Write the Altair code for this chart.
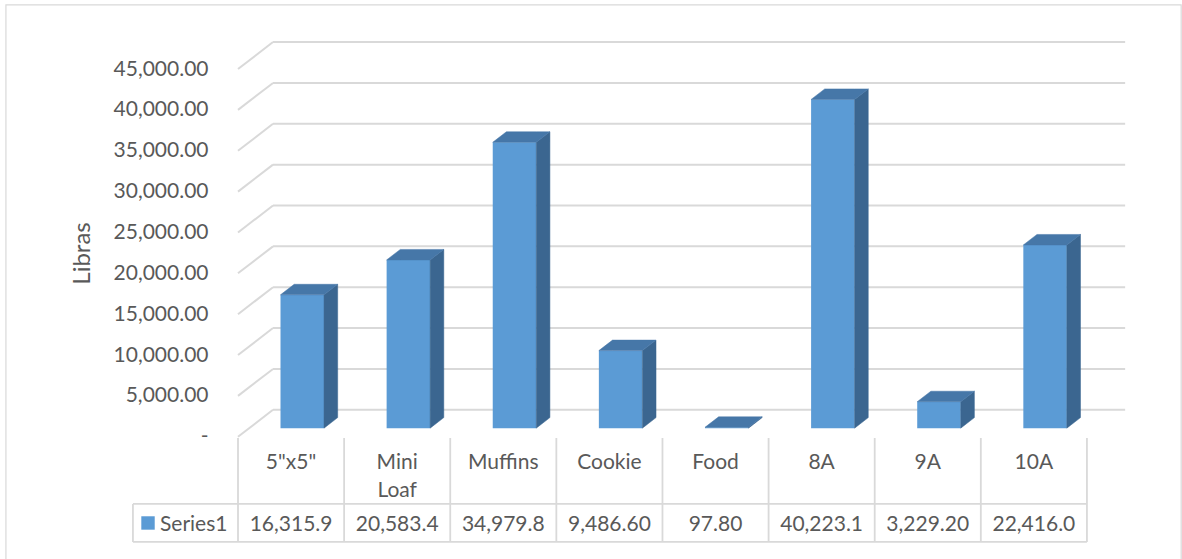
import altair as alt
import pandas as pd

# ---- data -------------------------------------------------------------
categories = ['5"x5"', "Mini Loaf", "Muffins", "Cookie", "Food", "8A", "9A", "10A"]
libras = [16315.9, 20583.4, 34979.8, 9486.6, 97.8, 40223.1, 3229.2, 22416.0]
y_ticks = [0, 5000, 10000, 15000, 20000, 25000, 30000, 35000, 40000, 45000]
series_name = "Series1"

# ---- style / projection ------------------------------------------------
FRONT, SIDE, TOP = "#5B9BD5", "#3B6690", "#4677A8"
GRID, TEXT = "#D9D9D9", "#595959"
FONT, FS = "Lato", 21

DX, DY = 0.33, 3300          # oblique shift at full depth (category units, libras)
BAR_W = 0.41                 # column width in category units
D0, D1 = 0.32, 0.71          # front / back depth of the columns
WALL_END = 8.36              # right end of the back wall

# table rows, expressed on the value scale (below the floor)
ROW_TOP, ROW_MID, ROW_BOT = -150, -8220, -12870
HEAD_BASE, VAL_BASE, KEY_MID = -4000, -11530, -10550
KEY_X, KEY_TXT_X, TABLE_LEFT = -0.848, -0.735, -0.99

xs = alt.Scale(domain=[0, 8.5], nice=False, zero=False)
ys = alt.Scale(domain=[-13000, 51000], nice=False, zero=False)
yaxis = alt.Axis(
    values=y_ticks,
    labelExpr="datum.value == 0 ? '-\u00a0\u00a0\u00a0' : format(datum.value, ',.2f')",
    grid=False, domain=False, ticks=False, labelPadding=30,
    labelFont=FONT, labelFontSize=FS, labelColor=TEXT,
    title="Libras", titleFont=FONT, titleFontSize=24, titleColor=TEXT,
    titleFontWeight="normal", titleX=-156, titleY=233, titleAngle=270,
    titleAlign="center", titleBaseline="middle",
)


def X(f):
    return alt.X(f, type="quantitative", scale=xs, axis=None)


def Y(f):
    return alt.Y(f, type="quantitative", scale=ys, axis=yaxis)


# ---- walls ----------------------------------------------------------------
grid_df = pd.DataFrame({"v": y_ticks})
grid_df["vb"] = grid_df["v"] + DY
grid_df["x0"], grid_df["xb"], grid_df["xe"] = 0.0, DX, WALL_END

back_wall = alt.Chart(grid_df).mark_rule(color=GRID, strokeWidth=2).encode(
    x=X("xb"), x2="xe", y=Y("vb"))
side_wall = alt.Chart(grid_df).mark_rule(color=GRID, strokeWidth=2).encode(
    x=X("x0"), x2="xb", y=Y("v"), y2="vb")

# ---- 3-D columns -----------------------------------------------------------
front_rows, side_rows, top_rows = [], [], []
dxb, dyb = (D1 - D0) * DX, (D1 - D0) * DY
base = D0 * DY
for i, (c, v) in enumerate(zip(categories, libras)):
    x1 = i + 0.5 - BAR_W / 2 + D0 * DX
    x2 = x1 + BAR_W
    yt = v + base
    front_rows.append({"cat": c, "x1": x1, "x2": x2, "y1": base, "y2": yt})
    side_rows += [
        {"cat": c, "x": x2, "y": yt, "y2": base},
        {"cat": c, "x": x2 + dxb, "y": yt + dyb, "y2": base + dyb},
    ]
    top_rows += [
        {"cat": c, "x": x1, "y": yt, "y2": yt},
        {"cat": c, "x": x1 + dxb, "y": yt + dyb, "y2": yt},
        {"cat": c, "x": x2, "y": yt + dyb, "y2": yt},
        {"cat": c, "x": x2 + dxb, "y": yt + dyb, "y2": yt + dyb},
    ]

front = alt.Chart(pd.DataFrame(front_rows)).mark_rect(color=FRONT).encode(
    x=X("x1"), x2="x2", y=Y("y1"), y2="y2")
side = alt.Chart(pd.DataFrame(side_rows)).mark_area(
    color=SIDE, stroke=SIDE, strokeWidth=0.5, orient="vertical").encode(
    x=X("x"), y=Y("y"), y2="y2", detail="cat:N")
top = alt.Chart(pd.DataFrame(top_rows)).mark_area(
    color=TOP, stroke=TOP, strokeWidth=0.5, orient="vertical").encode(
    x=X("x"), y=Y("y"), y2="y2", detail="cat:N")

# ---- data table -------------------------------------------------------------
vlines = pd.DataFrame({"x": list(range(len(categories) + 1)),
                       "ya": ROW_TOP, "yb": ROW_BOT})
vlines = pd.concat([vlines, pd.DataFrame({"x": [TABLE_LEFT], "ya": [ROW_MID], "yb": [ROW_BOT]})])
hlines = pd.DataFrame({"xa": [TABLE_LEFT, TABLE_LEFT], "xb": [len(categories)] * 2,
                       "y": [ROW_MID, ROW_BOT]})
table_v = alt.Chart(vlines).mark_rule(color=GRID, strokeWidth=1.8).encode(
    x=X("x"), y=Y("ya"), y2="yb")
table_h = alt.Chart(hlines).mark_rule(color=GRID, strokeWidth=1.8).encode(
    x=X("xa"), x2="xb", y=Y("y"))

cells = pd.DataFrame({
    "cat": categories,
    "xc": [i + 0.5 for i in range(len(categories))],
    "label": [f"{v:,.2f}"[:8] for v in libras],
    "yh": HEAD_BASE, "yv": VAL_BASE,
})
head_text = alt.Chart(cells).mark_text(
    font=FONT, fontSize=FS, color=TEXT, baseline="alphabetic",
    lineBreak=" ", lineHeight=28).encode(x=X("xc"), y=Y("yh"), text="cat:N")
val_text = alt.Chart(cells).mark_text(
    font=FONT, fontSize=FS, color=TEXT, baseline="alphabetic").encode(
    x=X("xc"), y=Y("yv"), text="label:N")

key_df = pd.DataFrame({"name": [series_name], "xk": [KEY_X], "xt": [KEY_TXT_X],
                       "yk": [KEY_MID], "yt": [VAL_BASE]})
key_box = alt.Chart(key_df).mark_square(color=FRONT, opacity=1, size=180).encode(
    x=X("xk"), y=Y("yk"))
key_text = alt.Chart(key_df).mark_text(
    font=FONT, fontSize=FS, color=TEXT, baseline="alphabetic", align="left").encode(
    x=X("xt"), y=Y("yt"), text="name:N")

# ---- chart frame -------------------------------------------------------------
frame_df = pd.DataFrame({"xa": [-2.187], "xb": [8.888], "ya": [52840], "yb": [-15700]})
frame = alt.Chart(frame_df).mark_rect(fillOpacity=0, stroke=GRID, strokeWidth=1.2).encode(
    x=X("xa"), x2="xb", y=Y("ya"), y2="yb")

chart = alt.layer(
    frame, back_wall, side_wall, front, side, top,
    table_v, table_h, head_text, val_text, key_box, key_text,
).properties(
    width=902, height=523,
    padding={"left": 238, "top": 20, "right": 42, "bottom": 16},
    autosize=alt.AutoSizeParams(type="none"),
    background="white",
).configure_view(stroke=None)

chart.save("out.html", embed_options={"renderer": "svg", "actions": False})
